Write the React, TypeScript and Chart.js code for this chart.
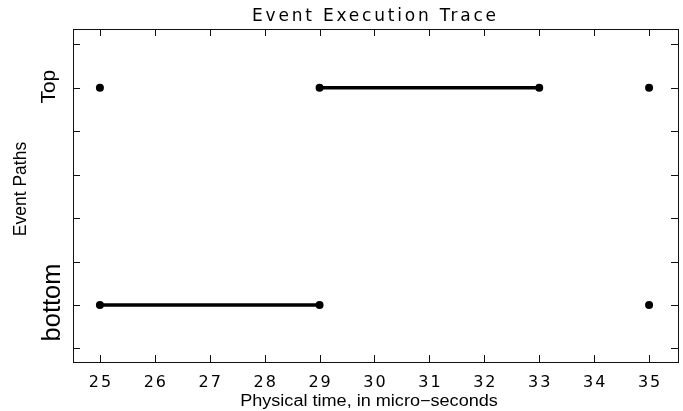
import React, { useEffect, useRef } from 'react';
import { Chart, registerables } from 'chart.js';

Chart.register(...registerables);

// ---- data ----
const pathNames = ['bottom', 'Top'];
const pathLevels = [1, 6];
const xTicks = [25, 26, 27, 28, 29, 30, 31, 32, 33, 34, 35];
const yTicks = [0, 1, 2, 3, 4, 5, 6, 7];
const topEventTimes = [25, 29, 33, 35];
const bottomEventTimes = [25, 29, 35];
const topSpans = [[29, 33]];
const bottomSpans = [[25, 29]];
const titleText = 'Event Execution Trace';
const xTitleText = 'Physical time, in micro\u2212seconds';
const yTitleText = 'Event Paths';

const X_MIN = 24.51;
const X_MAX = 35.545;
const Y_MIN = -0.335;
const Y_MAX = 7.35;

type Opts = {
  font: string;
  spacing?: number;
  sx?: number;
  rotate?: boolean;
};

function drawText(ctx: CanvasRenderingContext2D, text: string, x: number, y: number, o: Opts) {
  ctx.save();
  ctx.font = o.font;
  (ctx as any).letterSpacing = (o.spacing || 0) + 'px';
  ctx.fillStyle = '#000';
  ctx.textAlign = 'center';
  ctx.textBaseline = 'alphabetic';
  ctx.translate(x, y);
  if (o.rotate) ctx.rotate(-Math.PI / 2);
  ctx.scale(o.sx || 1, 1);
  ctx.fillText(text, (o.spacing || 0) / 2, 0);
  ctx.restore();
}

const framePlugin = {
  id: 'framePlugin',
  afterDraw(chart: any) {
    const ctx: CanvasRenderingContext2D = chart.ctx;
    const { left, top, right, bottom } = chart.chartArea;
    const xs = chart.scales.x;
    const ys = chart.scales.y;
    ctx.save();
    ctx.strokeStyle = '#111';
    ctx.lineWidth = 1;
    ctx.strokeRect(Math.round(left) + 0.5, Math.round(top) + 0.5, Math.round(right - left) - 1, Math.round(bottom - top) - 1);
    const tl = 7;
    ctx.beginPath();
    for (const v of xTicks) {
      const px = Math.round(xs.getPixelForValue(v)) + 0.5;
      ctx.moveTo(px, bottom - 1);
      ctx.lineTo(px, bottom - 1 - tl);
      ctx.moveTo(px, top);
      ctx.lineTo(px, top + tl);
    }
    for (const v of yTicks) {
      const py = Math.round(ys.getPixelForValue(v)) + 0.5;
      ctx.moveTo(left, py);
      ctx.lineTo(left + tl, py);
      ctx.moveTo(right - 1, py);
      ctx.lineTo(right - 1 - tl, py);
    }
    ctx.stroke();
    ctx.restore();

    // x tick labels
    for (const v of xTicks) {
      drawText(ctx, String(v), xs.getPixelForValue(v), 387, { font: '16px "DejaVu Sans"', spacing: 2 });
    }
    // y tick labels
    pathLevels.forEach((lv, i) => {
      const name = pathNames[i];
      const py = ys.getPixelForValue(lv);
      if (name === 'Top') {
        drawText(ctx, name, 55, py - 1, { font: '21px "Liberation Sans"', rotate: true });
      } else {
        drawText(ctx, name, 60, py - 2.5, { font: '25.5px "Liberation Sans"', rotate: true });
      }
    });
    // titles
    const cx = (left + right) / 2;
    drawText(ctx, titleText, cx - 2, 20.7, { font: '17px "DejaVu Sans"', spacing: 2.8 });
    drawText(ctx, xTitleText, cx - 7, 405.7, { font: '16px "Liberation Sans"', sx: 1.13 });
    drawText(ctx, yTitleText, 26, 189, { font: '17.5px "Liberation Sans"', rotate: true });
  },
};

function spanData(spans: number[][], level: number) {
  return spans.map((s) => s.map((t) => ({ x: t, y: level })));
}

export default function App() {
  const ref = useRef<HTMLCanvasElement | null>(null);
  useEffect(() => {
    if (!ref.current) return;
    const lineStyle = {
      borderColor: '#000',
      borderWidth: 3.5,
      pointRadius: 0,
      showLine: true,
      fill: false,
    };
    const pointStyle = {
      showLine: false,
      pointRadius: 4,
      pointBackgroundColor: '#000',
      pointBorderColor: '#000',
      pointBorderWidth: 0,
      borderColor: '#000',
    };
    const datasets: any[] = [];
    spanData(topSpans, pathLevels[1]).forEach((d) => datasets.push({ ...lineStyle, data: d }));
    spanData(bottomSpans, pathLevels[0]).forEach((d) => datasets.push({ ...lineStyle, data: d }));
    datasets.push({ ...pointStyle, data: topEventTimes.map((t) => ({ x: t, y: pathLevels[1] })) });
    datasets.push({ ...pointStyle, data: bottomEventTimes.map((t) => ({ x: t, y: pathLevels[0] })) });

    const chart = new Chart(ref.current, {
      type: 'line',
      data: { datasets },
      options: {
        animation: false,
        responsive: false,
        maintainAspectRatio: false,
        layout: { padding: { top: 29, right: 3, left: 0, bottom: 0 } },
        plugins: {
          legend: { display: false },
          title: { display: false },
          tooltip: { enabled: false },
        },
        scales: {
          x: {
            type: 'linear',
            min: X_MIN,
            max: X_MAX,
            ticks: { display: false },
            grid: { display: false },
            border: { display: false },
            afterFit: (s: any) => {
              s.height = 48;
            },
          },
          y: {
            type: 'linear',
            min: Y_MIN,
            max: Y_MAX,
            ticks: { display: false },
            grid: { display: false },
            border: { display: false },
            afterFit: (s: any) => {
              s.width = 73;
            },
          },
        },
      },
      plugins: [framePlugin],
    });
    return () => chart.destroy();
  }, []);

  return (
    <div style={{ position: 'absolute', left: 0, top: 0, width: 683, height: 411, background: '#fff' }}>
      <canvas ref={ref} width={683} height={411} style={{ display: 'block' }} />
    </div>
  );
}
